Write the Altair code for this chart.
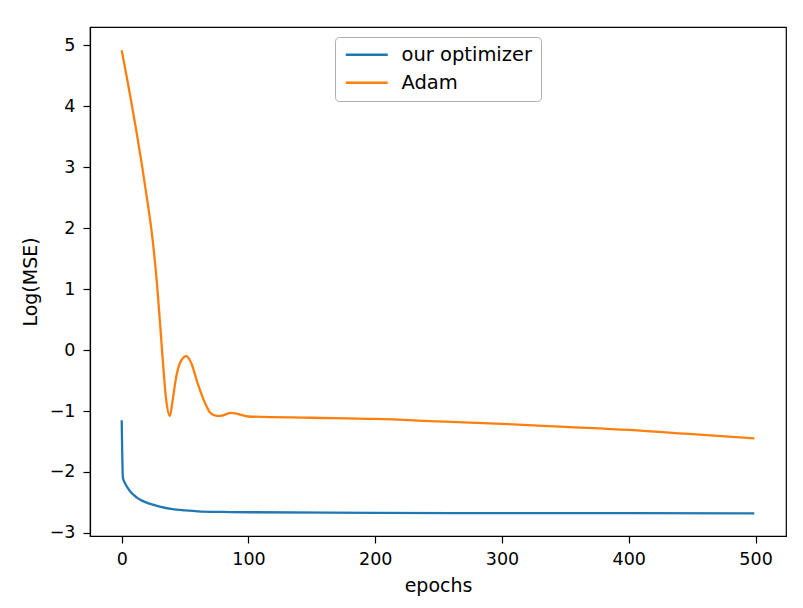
import altair as alt
import pandas as pd

# Adam (orange)
adam_epoch = [0, 4, 8, 12, 16, 20, 24, 28, 32, 35, 38, 40, 43, 47, 51, 55, 60, 66, 70, 75, 80, 86, 92, 100, 150, 200, 250, 300, 350, 400, 450, 499]
adam_val = [4.92, 4.48, 4.02, 3.54, 3.03, 2.48, 1.88, 1.05, -0.05, -0.80, -1.08, -0.85, -0.44, -0.17, -0.10, -0.22, -0.55, -0.88, -1.03, -1.08, -1.07, -1.03, -1.05, -1.09, -1.11, -1.13, -1.17, -1.21, -1.26, -1.31, -1.38, -1.45]

# our optimizer (blue)
ours_epoch = [0, 1, 3, 5, 8, 12, 16, 22, 30, 40, 50, 60, 80, 100, 200, 300, 400, 499]
ours_val = [-1.15, -2.10, -2.20, -2.27, -2.35, -2.42, -2.47, -2.52, -2.57, -2.61, -2.63, -2.645, -2.655, -2.66, -2.67, -2.675, -2.675, -2.68]

series_names = ["our optimizer", "Adam"]
series_colors = ["#1f77b4", "#ff7f0e"]
x_ticks = [0, 100, 200, 300, 400, 500]
y_ticks = [-3, -2, -1, 0, 1, 2, 3, 4, 5]

df = pd.concat([
    pd.DataFrame({"epochs": ours_epoch, "value": ours_val, "series": series_names[0]}),
    pd.DataFrame({"epochs": adam_epoch, "value": adam_val, "series": series_names[1]}),
])

font = "DejaVu Sans"

chart = alt.Chart(df).mark_line(strokeWidth=2.3, interpolate="monotone").encode(
    x=alt.X("epochs:Q",
            scale=alt.Scale(domain=[-25, 524], nice=False, zero=False),
            axis=alt.Axis(title="epochs", values=x_ticks, grid=False, format="d",
                          tickSize=7, labelPadding=7, titlePadding=9,
                          labelFontSize=17.5, titleFontSize=19,
                          titleFontWeight="normal")),
    y=alt.Y("value:Q",
            scale=alt.Scale(domain=[-3.05, 5.3], nice=False, zero=False),
            axis=alt.Axis(title="Log(MSE)", values=y_ticks, grid=False, format="d",
                          tickSize=7, labelPadding=8, titlePadding=9,
                          labelFontSize=17.5, titleFontSize=19,
                          titleFontWeight="normal")),
    color=alt.Color("series:N",
                    scale=alt.Scale(domain=series_names, range=series_colors),
                    legend=alt.Legend(title=None, orient="none", legendX=245, legendY=10,
                                      symbolType="M-1,0H5", symbolSize=196,
                                      symbolStrokeWidth=2.3,
                                      labelFontSize=19.5, labelOffset=39, rowPadding=7,
                                      padding=8, fillColor="white", strokeColor="#b0b0b0",
                                      cornerRadius=4, labelFont=font)),
    order=alt.Order("epochs:Q"),
).properties(
    width=696, height=509,
    padding={"left": 82, "top": 19, "right": 5, "bottom": 70},
    autosize=alt.AutoSizeParams(type="none"),
    background="white",
).configure_view(
    stroke="black", strokeWidth=1.2,
).configure_axis(
    domainColor="black", tickColor="black", labelColor="black", titleColor="black",
    labelFont=font, titleFont=font, titleFontWeight="normal", domainWidth=1.2, tickWidth=1.2,
)

chart.save("out.html", embed_options={"renderer": "svg", "actions": False})
